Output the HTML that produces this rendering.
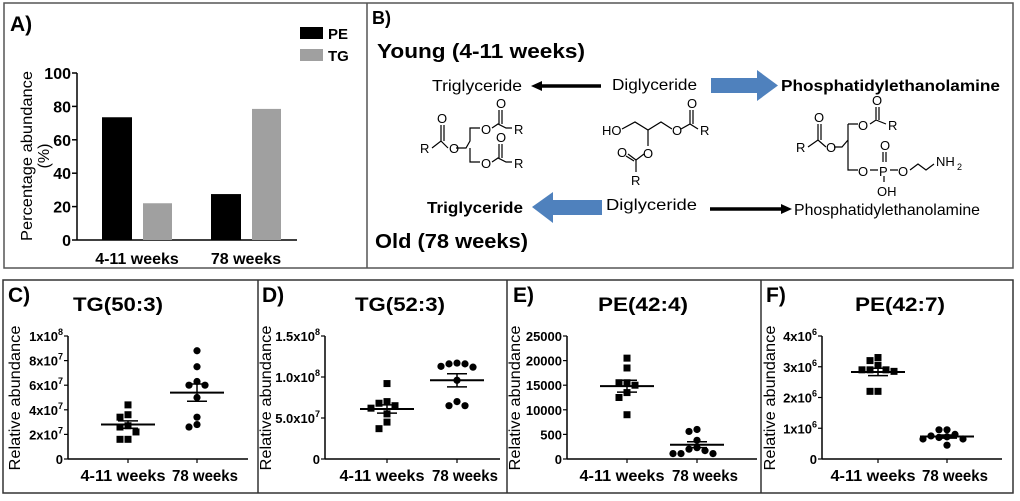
<!DOCTYPE html>
<html><head><meta charset="utf-8"><style>
html,body{margin:0;padding:0;background:#fff;}
svg{display:block;font-family:"Liberation Sans",Arial,sans-serif;}
.b{font-weight:bold;}
</style></head><body>
<svg id="fig" width="1020" height="501" viewBox="0 0 1020 501" xmlns="http://www.w3.org/2000/svg">
<rect x="4" y="3" width="1009" height="265" fill="none" stroke="#555" stroke-width="1.5"/>
<line x1="367" y1="3" x2="367" y2="268" stroke="#555" stroke-width="1.5"/>
<rect x="3" y="280" width="1010" height="213" fill="none" stroke="#333" stroke-width="1.5"/>
<line x1="258" y1="280" x2="258" y2="493" stroke="#333" stroke-width="1.5"/>
<line x1="507" y1="280" x2="507" y2="493" stroke="#333" stroke-width="1.5"/>
<line x1="761" y1="280" x2="761" y2="493" stroke="#333" stroke-width="1.5"/>

<g id="panelA">
<text x="10" y="31" class="b" font-size="21">A)</text>
<rect x="300" y="27" width="23" height="12" fill="#000"/>
<text x="328" y="39" class="b" font-size="15">PE</text>
<rect x="300" y="49" width="23" height="12" fill="#a0a0a0"/>
<text x="328" y="61" class="b" font-size="15">TG</text>
<text transform="translate(32,156) rotate(-90)" text-anchor="middle" font-size="16" textLength="170" lengthAdjust="spacingAndGlyphs">Percentage abundance</text>
<text transform="translate(49,156) rotate(-90)" text-anchor="middle" font-size="16">(%)</text>
</g>

<g id="panelB" font-size="16">
<text x="372" y="24" class="b" font-size="18">B)</text>
<text x="377" y="58" class="b" font-size="20" textLength="208" lengthAdjust="spacingAndGlyphs">Young (4-11 weeks)</text>
<text x="432" y="91" textLength="90" lengthAdjust="spacingAndGlyphs">Triglyceride</text>
<line x1="540" y1="86" x2="601" y2="86" stroke="#000" stroke-width="3.5"/>
<polygon points="531,86 542,81 542,91" fill="#000"/>
<text x="612" y="90" textLength="85" lengthAdjust="spacingAndGlyphs">Diglyceride</text>
<polygon points="711,78 757,78 757,70 778,85.5 757,101 757,93 711,93" fill="#4f81bd"/>
<text x="781" y="91" class="b" textLength="219" lengthAdjust="spacingAndGlyphs">Phosphatidylethanolamine</text>

<g stroke="#000" stroke-width="1.2" fill="none">
<path d="M432 148 L441 141 L448 148 M456 148 L466 148 L470 141 L470 128 L480 128 M492 128 L498 124 L506 128 L512 128 M470 148 L470 162 L480 162 M492 162 L498 158 L506 162 L512 162 M441 141 L441 125 M444 141 L444 125 M499 124 L499 110 M502 124 L502 110 M499 158 L499 144 M502 158 L502 144"/>
</g>
<g font-size="13">
<text x="420" y="153">R</text><text x="437" y="123">O</text><text x="449" y="153">O</text>
<text x="481" y="134">O</text><text x="496" y="108">O</text><text x="514" y="134">R</text>
<text x="481" y="168">O</text><text x="496" y="142">O</text><text x="514" y="168">R</text>
</g>
<g stroke="#000" stroke-width="1.2" fill="none">
<path d="M622 129 L635 122 L648 130 L661 122 L672 129 M681 129 L690 124 L698 129 M648 130 L648 146 M644 154 L636 160 L636 172 M690 124 L690 110 M693 124 L693 110 M636 160 L628 154 M634 161 L626 156"/>
</g>
<g font-size="13">
<text x="602" y="135">HO</text><text x="672" y="135">O</text><text x="687" y="108">O</text>
<text x="700" y="135">R</text><text x="643" y="158">O</text><text x="617" y="157">O</text><text x="631" y="185">R</text>
</g>
<g stroke="#000" stroke-width="1.2" fill="none">
<path d="M808 147 L818 140 L826 147 M834 147 L842 147 L848 140 M848 124 L848 170 L858 170 M848 124 L858 124 M870 124 L876 120 L886 124 M876 120 L876 107 M879 120 L879 107 M818 140 L818 124 M821 140 L821 124 M870 170 L878 170 M890 170 L898 170 M883 162 L883 152 M886 162 L886 152 M884 176 L884 182 M910 170 L918 164 L926 170 L934 164"/>
</g>
<g font-size="13">
<text x="796" y="152">R</text><text x="814" y="122">O</text><text x="826" y="152">O</text>
<text x="858" y="130">O</text><text x="872" y="105">O</text><text x="888" y="130">R</text>
<text x="858" y="176">O</text><text x="879" y="176">P</text><text x="898" y="176">O</text>
<text x="880" y="150">O</text><text x="877" y="196">OH</text>
<text x="936" y="166">NH</text><text x="957" y="170" font-size="9">2</text>
</g>

<text x="427" y="213" class="b" textLength="96" lengthAdjust="spacingAndGlyphs">Triglyceride</text>
<polygon points="532,207 553,192 553,200 602,200 602,215 553,215 553,223" fill="#4f81bd"/>
<text x="606" y="210" textLength="91" lengthAdjust="spacingAndGlyphs">Diglyceride</text>
<line x1="710" y1="209" x2="782" y2="209" stroke="#000" stroke-width="3.5"/>
<polygon points="792,209 781,204 781,214" fill="#000"/>
<text x="794" y="215" textLength="186" lengthAdjust="spacingAndGlyphs">Phosphatidylethanolamine</text>
<text x="375" y="248" class="b" font-size="20" textLength="153" lengthAdjust="spacingAndGlyphs">Old (78 weeks)</text>
</g>
<g id="scatters"></g>
</svg>
<script>
var barCats = ["4-11 weeks", "78 weeks"];
var peVals = [73.5, 27.5];
var tgVals = [22, 78.5];
var barTicks = [0, 20, 40, 60, 80, 100];

var cTitle = "TG(50:3)";
var cYoung = [4.4, 3.6, 3.4, 2.7, 2.6, 2.2, 1.6, 1.6];
var cOld = [8.8, 7.5, 6.3, 6.0, 6.0, 5.0, 3.4, 2.8, 2.6];
var cStats = [[2.8, 0.3], [5.4, 0.7]];
var cTicks = [0, 2, 4, 6, 8, 10];
var cTickLabels = [["0",""],["2x10","7"],["4x10","7"],["6x10","7"],["8x10","7"],["1x10","8"]];

var dTitle = "TG(52:3)";
var dYoung = [9.2, 7.0, 6.8, 6.5, 6.2, 5.5, 4.5, 3.7];
var dOld = [11.7, 11.6, 11.6, 11.3, 11.2, 9.6, 7.0, 6.5, 6.5];
var dStats = [[6.1, 0.5], [9.6, 0.8]];
var dTicks = [0, 5, 10, 15];
var dTickLabels = [["0",""],["5.0x10","7"],["1.0x10","8"],["1.5x10","8"]];

var eTitle = "PE(42:4)";
var eYoung = [20500, 18500, 15500, 15500, 15000, 13500, 12500, 9000];
var eOld = [6000, 5600, 3800, 2300, 2000, 1700, 1100, 1100, 1100];
var eStats = [[14800, 1200], [2900, 600]];
var eTicks = [0, 5000, 10000, 15000, 20000, 25000];
var eTickLabels = [["0",""],["500",""],["10000",""],["15000",""],["20000",""],["25000",""]];

var fTitle = "PE(42:7)";
var fYoung = [3.3, 3.2, 3.05, 2.9, 2.9, 2.9, 2.85, 2.2, 2.2];
var fOld = [0.95, 0.95, 0.8, 0.75, 0.72, 0.7, 0.65, 0.65, 0.45];
var fStats = [[2.83, 0.12], [0.73, 0.05]];
var fTicks = [0, 1, 2, 3, 4];
var fTickLabels = [["0",""],["1x10","6"],["2x10","6"],["3x10","6"],["4x10","6"]];

var NS = "http://www.w3.org/2000/svg";
function mk(tag, attrs, parent) {
  var e = document.createElementNS(NS, tag);
  for (var k in attrs) e.setAttribute(k, attrs[k]);
  parent.appendChild(e);
  return e;
}

(function () {
  var g = document.getElementById("panelA");
  var x0 = 77, y0 = 240, yTop = 73, xEnd = 297;
  function y(v) { return y0 - (v / 100) * (y0 - yTop); }
  var groupX = [102, 211];
  var ax = mk("line", {x1: x0, y1: yTop, x2: x0, y2: y0, stroke: "#000", "stroke-width": 1.5}, g);
  
  
  var xa = mk("line", {x1: x0, y1: y0, x2: xEnd, y2: y0, stroke: "#000", "stroke-width": 1.5}, g);
  
  
  barTicks.forEach(function (t) {
    mk("line", {x1: x0 - 5, y1: y(t), x2: x0, y2: y(t), stroke: "#000", "stroke-width": 1.5}, g);
    var tl = mk("text", {x: x0 - 6, y: y(t) + 6, "text-anchor": "end", "font-size": 16, "font-weight": "bold"}, g);
    tl.textContent = t;
    
    
  });
  barCats.forEach(function (c, i) {
    var pb = mk("rect", {x: groupX[i], y: y(peVals[i]), width: 30, height: y0 - y(peVals[i]), fill: "#000"}, g);
    
    
    var tb = mk("rect", {x: groupX[i] + 41, y: y(tgVals[i]), width: 29, height: y0 - y(tgVals[i]), fill: "#a0a0a0"}, g);
    
    
    var lab = mk("text", {x: groupX[i] + 35, y: 264, "text-anchor": "middle", "font-size": 16, "font-weight": "bold"}, g);
    lab.textContent = c;
    
    
  });
})();

var panels = [
  {label: "C)", lx: 8, title: cTitle, tx: 118, ax: 68, g1: 128, g2: 197, xe: 248, ytx: 20, young: cYoung, old: cOld, stats: cStats, ticks: cTicks, tl: cTickLabels, name: "c"},
  {label: "D)", lx: 262, title: dTitle, tx: 400, ax: 325, g1: 387, g2: 457, xe: 500, ytx: 271, young: dYoung, old: dOld, stats: dStats, ticks: dTicks, tl: dTickLabels, name: "d"},
  {label: "E)", lx: 513, title: eTitle, tx: 643, ax: 567, g1: 627, g2: 697, xe: 757, ytx: 520, young: eYoung, old: eOld, stats: eStats, ticks: eTicks, tl: eTickLabels, name: "e"},
  {label: "F)", lx: 766, title: fTitle, tx: 900, ax: 822, g1: 878, g2: 947, xe: 1002, ytx: 775, young: fYoung, old: fOld, stats: fStats, ticks: fTicks, tl: fTickLabels, name: "f"}
];
var root = document.getElementById("scatters");
var yTopS = 336, y0S = 459;

function swarm(vals, yf, cx) {
  var placed = [];
  var xs = [];
  vals.forEach(function (v, i) {
    var py = yf(v);
    var slots = [0, -8, 8, -16, 16, -24, 24];
    for (var s = 0; s < slots.length; s++) {
      var px = cx + slots[s], ok = true;
      for (var j = 0; j < placed.length; j++) {
        var dx = placed[j][0] - px, dy = placed[j][1] - py;
        if (dx * dx + dy * dy < 49) { ok = false; break; }
      }
      if (ok) { placed.push([px, py]); xs[i] = px; return; }
    }
    placed.push([cx, py]); xs[i] = cx;
  });
  return xs;
}

panels.forEach(function (p) {
  var g = mk("g", {}, root);
  
  
  var maxT = p.ticks[p.ticks.length - 1];
  function y(v) { return y0S - (v / maxT) * (y0S - yTopS); }
  var lab = mk("text", {x: p.lx, y: 302, "font-size": 21, "font-weight": "bold"}, g);
  lab.textContent = p.label;
  
  
  var ti = mk("text", {x: p.tx, y: 311, "font-size": 19, "font-weight": "bold", "text-anchor": "middle", textLength: 90, lengthAdjust: "spacingAndGlyphs"}, g);
  ti.textContent = p.title;
  
  
  var yt = mk("text", {transform: "translate(" + p.ytx + ",398) rotate(-90)", "font-size": 16, "text-anchor": "middle", textLength: 145, lengthAdjust: "spacingAndGlyphs"}, g);
  yt.textContent = "Relative abundance";
  
  
  var ya = mk("line", {x1: p.ax, y1: yTopS, x2: p.ax, y2: y0S, stroke: "#000", "stroke-width": 1.5}, g);
  
  
  var xa = mk("line", {x1: p.ax, y1: y0S, x2: p.xe, y2: y0S, stroke: "#000", "stroke-width": 1.5}, g);
  
  
  p.ticks.forEach(function (t, i) {
    mk("line", {x1: p.ax - 4, y1: y(t), x2: p.ax, y2: y(t), stroke: "#000", "stroke-width": 1.2}, g);
    var txt = mk("text", {x: p.ax - 5, y: y(t) + 5, "text-anchor": "end", "font-size": 13, "font-weight": "bold"}, g);
    var base = mk("tspan", {}, txt);
    base.textContent = p.tl[i][0];
    if (p.tl[i][1]) {
      var sup = mk("tspan", {dy: -6, "font-size": 9}, txt);
      sup.textContent = p.tl[i][1];
    }
    
    
  });
  [p.g1, p.g2].forEach(function (gx, gi) {
    mk("line", {x1: gx, y1: y0S, x2: gx, y2: y0S + 4, stroke: "#000", "stroke-width": 1.2}, g);
    var xl = mk("text", {x: gx + (gi === 0 ? -5 : 8), y: 481, "text-anchor": "middle", "font-size": 16, "font-weight": "bold", textLength: gi === 0 ? 85 : 66, lengthAdjust: "spacingAndGlyphs"}, g);
    xl.textContent = gi === 0 ? "4-11 weeks" : "78 weeks";
    
    
    var vals = gi === 0 ? p.young : p.old;
    var xs = swarm(vals, y, gx);
    vals.forEach(function (v, k) {
      var m;
      if (gi === 0) m = mk("rect", {x: xs[k] - 3.5, y: y(v) - 3.5, width: 7, height: 7, fill: "#000"}, g);
      else m = mk("circle", {cx: xs[k], cy: y(v), r: 3.6, fill: "#000"}, g);
      
      
    });
    var st = p.stats[gi];
    var ml = mk("line", {x1: gx - 27, y1: y(st[0]), x2: gx + 27, y2: y(st[0]), stroke: "#000", "stroke-width": 2}, g);
    
    
    var e1 = mk("line", {x1: gx - 10, y1: y(st[0] + st[1]), x2: gx + 10, y2: y(st[0] + st[1]), stroke: "#000", "stroke-width": 1.5}, g);
    
    
    var e2 = mk("line", {x1: gx - 10, y1: y(st[0] - st[1]), x2: gx + 10, y2: y(st[0] - st[1]), stroke: "#000", "stroke-width": 1.5}, g);
    
    
    mk("line", {x1: gx, y1: y(st[0] + st[1]), x2: gx, y2: y(st[0] - st[1]), stroke: "#000", "stroke-width": 1.5}, g);
  });
});
</script>
</body></html>
